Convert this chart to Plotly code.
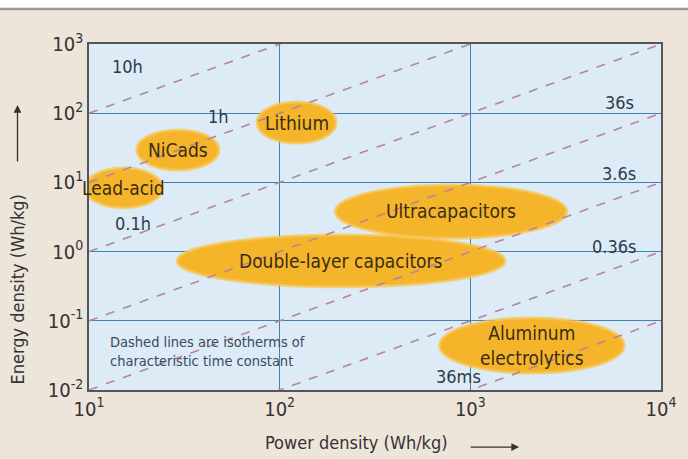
import math
import plotly.graph_objects as go

FONT = "DejaVu Sans Condensed, Liberation Sans Narrow, Roboto Condensed, Liberation Sans, sans-serif"

# axes
power_ticks = [10, 100, 1000, 10000]
power_ticktext = ["10<sup>1</sup>", "10<sup>2</sup>", "10<sup>3</sup>", "10<sup>4</sup>"]
energy_ticks = [0.01, 0.1, 1, 10, 100, 1000]
energy_ticktext = ["10<sup>-2</sup>", "10<sup>-1</sup>", "10<sup>0</sup>",
                   "10<sup>1</sup>", "10<sup>2</sup>", "10<sup>3</sup>"]

# storage technologies: power range (W/kg) and energy range (Wh/kg)
tech_names = ["Lead-acid", "NiCads", "Lithium", "Ultracapacitors",
              "Double-layer capacitors", "Aluminum<br>electrolytics"]
power_min = [9.5, 17.8, 76, 196, 29, 690]
power_max = [24.3, 48.1, 198, 3200, 1520, 6410]
energy_min = [4.3, 15.1, 37, 1.57, 0.31, 0.0176]
energy_max = [16.1, 57.2, 145, 9.2, 1.74, 0.11]

# characteristic time constants (hours) -> isochrone lines E = t * P
time_hours = [10, 1, 0.1, 0.01, 0.001, 0.0001, 0.00001]
time_labels = ["10h", "1h", "0.1h", "36s", "3.6s", "0.36s", "36ms"]
line_power = [10, 10000]

TEXT_DARK = "#2e3b4a"
GOLD = "#f5b52a"

fig = go.Figure()

for t in time_hours:
    fig.add_trace(go.Scatter(
        x=line_power,
        y=[t * p for p in line_power],
        mode="lines",
        line=dict(color="#b8849a", width=1.6, dash="dash"),
        hoverinfo="skip",
        showlegend=False,
    ))

# ellipses (shapes take data values on log axes, annotations take log10)
for i, name in enumerate(tech_names):
    fig.add_shape(type="circle", xref="x", yref="y",
                  x0=power_min[i], x1=power_max[i], y0=energy_min[i], y1=energy_max[i],
                  fillcolor=GOLD, line=dict(color="rgba(248,196,80,0.7)", width=3),
                  layer="between")
    cx = (math.log10(power_min[i]) + math.log10(power_max[i])) / 2
    cy = (math.log10(energy_min[i]) + math.log10(energy_max[i])) / 2
    fig.add_annotation(x=cx, y=cy, text=name, showarrow=False,
                       font=dict(family=FONT, size=19, color="#3a2c12"))

# isochrone labels (log10 coords)
label_pos = [(1.2, 2.67), (1.68, 1.95), (1.23, 0.41), (3.78, 2.15),
             (3.78, 1.13), (3.755, 0.07), (2.94, -1.81)]
for (lx, ly), lab in zip(label_pos, time_labels):
    fig.add_annotation(x=lx, y=ly, text=lab, showarrow=False,
                       font=dict(family=FONT, size=18, color=TEXT_DARK))

fig.add_annotation(xref="x", yref="y", x=1.1, y=-1.45, xanchor="left", align="left",
                   text="Dashed lines are isotherms of<br>characteristic time constant",
                   showarrow=False, font=dict(family=FONT, size=14.5, color="#3a4a5e"))

# axis titles and arrows
fig.add_annotation(xref="paper", yref="paper", x=0.467, y=-0.153, xanchor="center", yanchor="middle",
                   text="Power density (Wh/kg)",
                   showarrow=False, font=dict(family=FONT, size=18, color="#333"))
fig.add_annotation(xref="paper", yref="paper", x=0.752, y=-0.165, text="", showarrow=True,
                   ax=-50, ay=0, arrowhead=2, arrowsize=1.2, arrowwidth=1.3, arrowcolor="#333")
fig.add_annotation(xref="paper", yref="paper", x=-0.125, y=0.289, xanchor="center", yanchor="middle",
                   text="Energy density (Wh/kg)",
                   textangle=-90, showarrow=False, font=dict(family=FONT, size=18, color="#333"))
fig.add_annotation(xref="paper", yref="paper", x=-0.125, y=0.824, text="", showarrow=True,
                   ax=0, ay=58, arrowhead=2, arrowsize=1.2, arrowwidth=1.3, arrowcolor="#333")

# page decorations: white strip at top with grey rule
fig.add_shape(type="rect", xref="paper", yref="paper", x0=-0.2, x1=1.1, y0=1.105, y1=1.2,
              fillcolor="white", line=dict(width=0), layer="below")
fig.add_shape(type="line", xref="paper", yref="paper", x0=-0.2, x1=1.1, y0=1.101, y1=1.101,
              line=dict(color="#9a9a9a", width=2.5))

axis_common = dict(
    type="log",
    showgrid=True,
    gridcolor="#3f82b4",
    gridwidth=1,
    showline=True,
    linecolor="#555",
    linewidth=1.5,
    mirror=True,
    ticks="",
    zeroline=False,
    tickfont=dict(family=FONT, size=20, color="#333"),
)

fig.update_layout(
    width=688,
    height=459,
    margin=dict(l=89, r=23, t=44, b=69),
    paper_bgcolor="#ede5da",
    plot_bgcolor="#dcebf6",
    showlegend=False,
    xaxis=dict(range=[1, 4], tickvals=power_ticks, ticktext=power_ticktext, **axis_common),
    yaxis=dict(range=[-2, 3], tickvals=energy_ticks, ticktext=energy_ticktext, **axis_common),
)

fig.write_html("out.html", config={"displayModeBar": False},
               post_script="document.body.style.margin='0';")
